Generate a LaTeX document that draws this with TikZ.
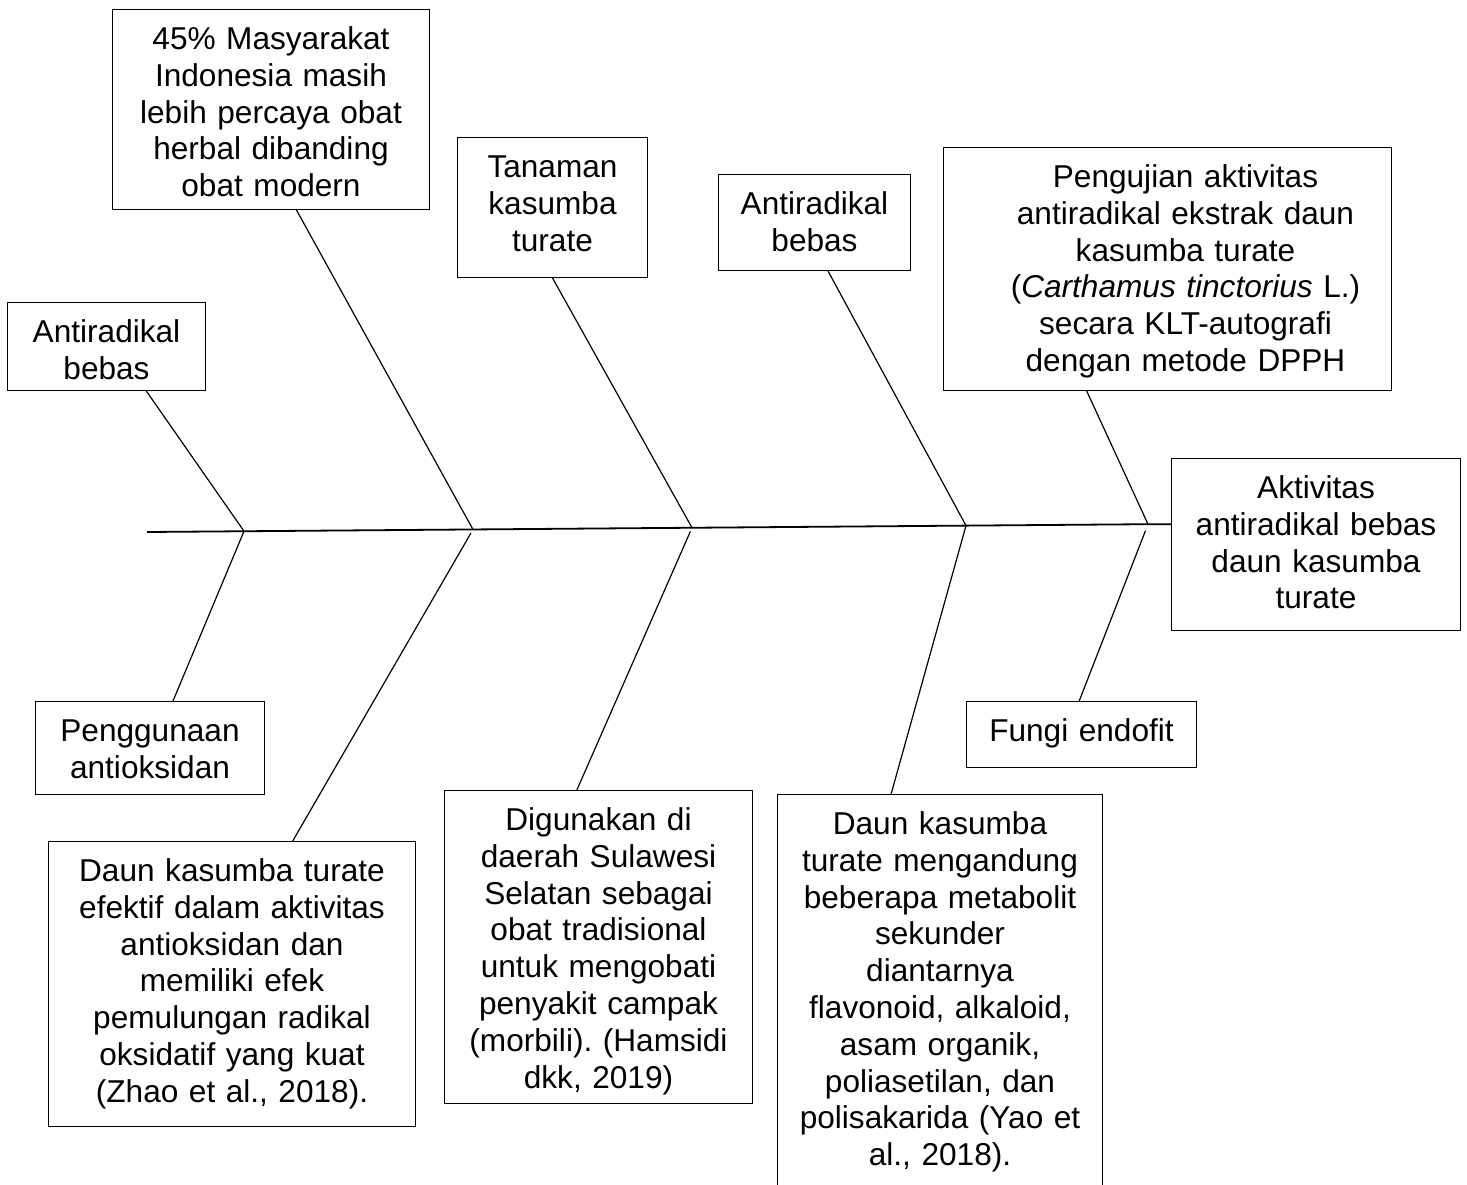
\documentclass[tikz,border=0pt]{standalone}
\usepackage{fontspec}
\setmainfont{Liberation Sans}
\usetikzlibrary{calc}

\tikzset{
  bone/.style={draw, line width=1pt, inner sep=0pt, align=center,
    anchor=north west, text height=40pt,
    font={\fontsize{31.6pt}{36.8pt}\selectfont\frenchspacing}},
  bonebox/.style 2 args={text width=#1, text depth=#2},
  branch/.style={line width=1.2pt},
  spine/.style={line width=1.8pt},
}

\begin{document}
\begin{tikzpicture}[x=1pt, y=-1pt]
  \useasboundingbox (0,0) rectangle (1467,1185);
  \clip (0,0) rectangle (1467,1185);

  % Boxes above the spine
  \node[bone, bonebox={198pt}{48pt}] (radA) at (7,302) {Antiradikal\\bebas};
  \node[bone, bonebox={317pt}{160pt}] (herbal) at (112,9)
    {45\% Masyarakat\\Indonesia masih\\lebih percaya obat\\herbal dibanding\\obat modern};
  \node[bone, bonebox={190pt}{100pt}] (tanaman) at (457,137) {Tanaman\\kasumba\\turate};
  \node[bone, bonebox={192pt}{56pt}] (radB) at (718,174) {Antiradikal\\bebas};
  % text of this box sits a little right of centre
  \node[bone, bonebox={448pt}{203pt}] (uji) at (943,147)
    {\hspace*{36pt}\parbox[t]{412pt}{\centering
     Pengujian aktivitas\\antiradikal ekstrak daun\\kasumba turate\\(\textit{Carthamus tinctorius} L.)\\secara KLT-autografi\\dengan metode DPPH}};

  % Head of the fish
  \node[bone, bonebox={289pt}{132pt}] (head) at (1171,458)
    {Aktivitas\\antiradikal bebas\\daun kasumba\\turate};

  % Boxes below the spine
  \node[bone, bonebox={229pt}{53pt}] (guna) at (35,701) {Penggunaan\\antioksidan};
  \node[bone, bonebox={367pt}{245pt}] (efektif) at (48,841)
    {Daun kasumba turate\\efektif dalam aktivitas\\antioksidan dan\\memiliki efek\\pemulungan radikal\\oksidatif yang kuat\\(Zhao et al., 2018).};
  \node[bone, bonebox={308pt}{273pt}] (guna2) at (444,790)
    {Digunakan di\\daerah Sulawesi\\Selatan sebagai\\obat tradisional\\untuk mengobati\\penyakit campak\\(morbili). (Hamsidi\\dkk, 2019)};
  \node[bone, bonebox={325pt}{380pt}] (metabolit) at (777,794)
    {Daun kasumba\\turate mengandung\\beberapa metabolit\\sekunder\\diantarnya\\flavonoid, alkaloid,\\asam organik,\\poliasetilan, dan\\polisakarida (Yao et\\al., 2018).};
  \node[bone, bonebox={230pt}{26pt}] (fungi) at (966,701) {Fungi endofit};

  % Spine
  \coordinate (tail) at (147,532);
  \coordinate (j1) at (244,531.2);
  \coordinate (j2) at (473,529.5);
  \coordinate (j3) at (692,527.7);
  \coordinate (j4) at (966,525.6);
  \coordinate (j5) at (1148,524.2);
  \draw[spine] (tail) -- (j5) -- (j5 -| head.west);

  % Upper bones
  \draw[branch] ($(radA.south west)!0.70!(radA.south east)$) -- (j1);
  \draw[branch] ($(herbal.south west)!0.58!(herbal.south east)$) -- (j2);
  \draw[branch] (tanaman.south) -- (j3);
  \draw[branch] ($(radB.south west)!0.57!(radB.south east)$) -- (j4);
  \draw[branch] ($(uji.south west)!0.32!(uji.south east)$) -- (j5);

  % Lower bones
  \draw[branch] ($(guna.north west)!0.60!(guna.north east)$) -- (j1);
  \draw[branch, shorten >=4pt] ($(efektif.north west)!0.665!(efektif.north east)$) -- (j2);
  \draw[branch, shorten >=4pt] ($(guna2.north west)!0.43!(guna2.north east)$) -- (j3);
  \draw[branch] ($(metabolit.north west)!0.35!(metabolit.north east)$) -- (j4);
  \draw[branch, shorten >=7pt] ($(fungi.north west)!0.49!(fungi.north east)$) -- (j5);
\end{tikzpicture}
\end{document}
